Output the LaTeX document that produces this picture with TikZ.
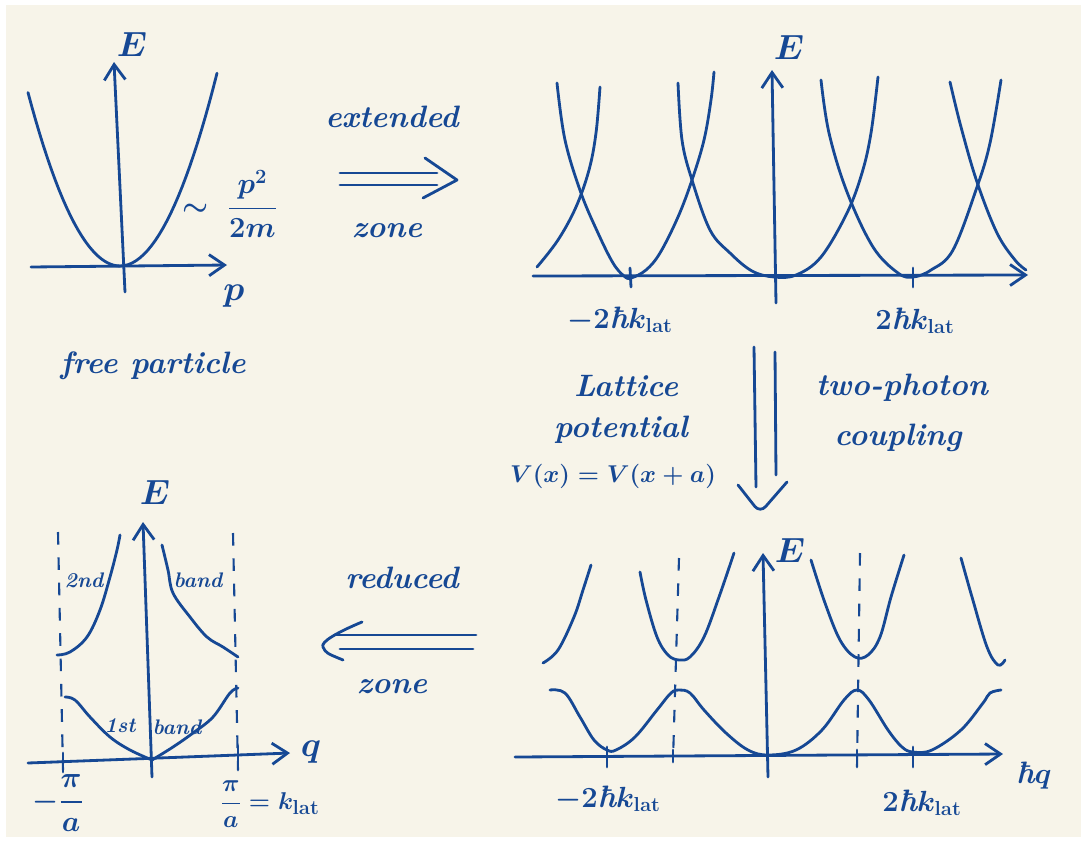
\documentclass[tikz,border=0pt]{standalone}
\usepackage{amsmath}
\usetikzlibrary{arrows.meta,calc}
\definecolor{ink}{RGB}{22,72,148}
\definecolor{paper}{RGB}{247,244,233}
\newcommand{\hbr}{\text{\bfseries\itshape ħ}}

\begin{document}
\begin{tikzpicture}[x=0.025cm, y=-0.025cm,
    pen/.style={draw=ink, line width=2pt, line cap=round, line join=round},
    axis/.style={pen, -{Straight Barb[length=11pt,width=15pt]}},
    guide/.style={pen, line width=1.5pt, line cap=butt, dash pattern=on 9pt off 9pt},
    lbl/.style={text=ink, font=\fontsize{22}{26}\selectfont\boldmath},
    slbl/.style={text=ink, font=\fontsize{19}{23}\selectfont\boldmath},
    big/.style={text=ink, font=\fontsize{28}{32}\selectfont\boldmath},
    word/.style={text=ink, font=\fontsize{22}{26}\selectfont\bfseries\itshape},
    tag/.style={text=ink, font=\fontsize{15}{18}\selectfont\bfseries\itshape}
  ]
    % Paper
    \fill[white] (0,0) rectangle (1085,842);
    \fill[paper] (6,5) rectangle (1081,837);
    \useasboundingbox (0,0) rectangle (1085,842);

    % Free particle
    \coordinate (fpL) at (31,267);
    \coordinate (fpR) at (227,265);
    \coordinate (fpB) at (125,292);
    \coordinate (fpT) at (114,62);
    \draw[axis] (fpL) -- (fpR);
    \draw[axis] (fpB) -- (fpT);
    \draw[pen] plot[domain=-92:97, samples=50] (\x+120, {266-0.0205*\x*\x});
    \node[big] (fpE) at (132,44) {$E$};
    \node[big] (fpP) at (234,296) {$p$};
    \node[lbl] (fpDisp) at (230,204) {$\sim\ \dfrac{p^2}{2m}$};
    \node[word] (fpName) at (153,366) {free particle};

    % Extended zone arrow
    \node[word] (extTop) at (392,117) {extended};
    \node[word] (extBot) at (387,231) {zone};
    \coordinate (ext0) at (340,179);
    \coordinate (ext1) at (457,180);
    \draw[pen] ($(ext0)+(0,-6)$) -- ($(ext1)+(-20,-7)$);
    \draw[pen] ($(ext0)+(0,6)$) -- ($(ext1)+(-20,5)$);
    \draw[pen] ($(ext1)+(-32,-22)$) -- (ext1) -- ($(ext1)+(-34,18)$);

    % Extended zone scheme
    \coordinate (exL) at (533,276);
    \coordinate (exR) at (1028,275);
    \coordinate (exB) at (776,303);
    \coordinate (exT) at (772,70);
    \draw[axis] (exL) -- (exR);
    \draw[axis] (exB) -- (exT);
    \draw[pen] (630,268) -- (631,287);
    \draw[pen] (913,268) -- (913,287);
    \draw[pen] plot[smooth, tension=0.6] coordinates {(537,267) (558,240) (576,207) (589,170) (596,133) (600,87)};
    \draw[pen] plot[smooth, tension=0.6] coordinates {(557,83) (565,140) (581,193) (598,233) (613,263) (624,276) (631,278) (646,270) (660,253) (678,217) (692,180) (704,140) (711,100) (714,72)};
    \draw[pen] plot[smooth, tension=0.6] coordinates {(678,83) (682,140) (692,180) (710,230) (730,253) (752,271) (774,277) (796,275) (821,257) (847,213) (862,173) (871,133) (878,77)};
    \draw[pen] plot[smooth, tension=0.6] coordinates {(821,80) (829,133) (847,192) (873,247) (898,273) (913,277) (931,270) (953,250) (977,187) (990,143) (1001,80)};
    \draw[pen] plot[smooth, tension=0.6] coordinates {(950,82) (961,127) (977,182) (997,233) (1015,260) (1026,270)};
    \node[big] (exE) at (789,47) {$E$};
    \node[lbl] (exKm) at (620,320) {$-2\hbr k_{\mathrm{lat}}$};
    \node[lbl] (exKp) at (915,321) {$2\hbr k_{\mathrm{lat}}$};

    % Downward arrow
    \node[word] (latA) at (626,386) {Lattice};
    \node[word] (latB) at (621,430) {potential};
    \node[slbl] (latC) at (613,476) {$V(x)=V(x+a)$};
    \node[word] (tpA) at (902,388) {two-photon};
    \node[word] (tpB) at (898,438) {coupling};
    \coordinate (dn0) at (765,350);
    \coordinate (dn1) at (760,513);
    \draw[pen] ($(dn0)+(-11,-3)$) -- ($(dn1)+(-4,-26)$);
    \draw[pen] ($(dn0)+(10,2)$) -- ($(dn1)+(16,-38)$);
    \draw[pen, rounded corners=6pt] ($(dn1)+(-22,-28)$) -- (dn1) -- ($(dn1)+(27,-31)$);

    % Reduced zone scheme
    \coordinate (rzL) at (28,763);
    \coordinate (rzR) at (290,753);
    \coordinate (rzB) at (152,777);
    \coordinate (rzT) at (143,522);
    \draw[guide] (58,532) -- (63,770);
    \draw[guide] (233,533) -- (238,770);
    \draw[axis] (rzL) -- (rzR);
    \draw[axis] (rzB) -- (rzT);
    \draw[pen] (63,753) -- (63,772);
    \draw[pen] (238,746) -- (238,770);
    \draw[pen] plot[smooth, tension=0.6] coordinates {(57,655) (70,652) (87,637) (100,610) (110,577) (117,550) (120,535)};
    \draw[pen] plot[smooth, tension=0.6] coordinates {(162,545) (168,570) (173,593) (190,617) (207,637) (223,647) (238,657)};
    \draw[pen] plot[smooth, tension=0.6] coordinates {(65,697) (75,700) (90,717) (110,737) (130,750) (152,760)};
    \draw[pen] plot[smooth, tension=0.6] coordinates {(152,760) (173,747) (193,733) (213,717) (230,693) (238,688)};
    \node[big] (rzE) at (155,492) {$E$};
    \node[big] (rzQ) at (311,752) {$q$};
    \node[tag] (rzSec) at (84,580) {2nd};
    \node[tag] (rzSecB) at (198,580) {band};
    \node[tag] (rzFir) at (120,726) {1st};
    \node[tag] (rzFirB) at (177,727) {band};
    \node[lbl] (rzKm) at (58,803) {$-\dfrac{\pi}{a}$};
    \node[slbl] (rzKp) at (270,804) {$\dfrac{\pi}{a}=k_{\mathrm{lat}}$};

    % Reduced zone arrow
    \node[word] (redTop) at (402,578) {reduced};
    \node[word] (redBot) at (392,687) {zone};
    \coordinate (rd0) at (476,642);
    \coordinate (rd1) at (323,647);
    \draw[pen] ($(rd1)+(12,-12)$) -- ($(rd0)+(0,-7)$);
    \draw[pen] ($(rd1)+(17,2)$) -- ($(rd0)+(-3,7)$);
    \draw[pen] ($(rd1)+(39,-25)$) .. controls ($(rd1)+(15,-15)$) and ($(rd1)+(-3,-5)$) .. (rd1) .. controls ($(rd1)+(3,6)$) .. ($(rd1)+(20,13)$);

    % Band scheme with lattice
    \coordinate (bsL) at (515,757);
    \coordinate (bsR) at (1003,754);
    \coordinate (bsB) at (768,777);
    \coordinate (bsT) at (763,553);
    \draw[guide] (679,558) -- (673,760);
    \draw[guide] (860,553) -- (857,767);
    \draw[axis] (bsL) -- (bsR);
    \draw[axis] (bsB) -- (bsT);
    \draw[pen] (607,747) -- (607,767);
    \draw[pen] (673,750) -- (673,762);
    \draw[pen] (857,750) -- (857,767);
    \draw[pen] (913,747) -- (913,767);
    \draw[pen] plot[smooth, tension=0.6] coordinates {(550,690) (565,693) (580,717) (594,740) (607,750) (616,750) (635,737) (657,710) (671,693) (679,690) (690,693) (704,710) (726,733) (748,750) (768,755) (796,750) (822,730) (844,700) (857,690) (869,700) (888,730) (902,747) (913,752) (932,750) (961,730) (983,703) (990,693) (1001,690)};
    \draw[pen] plot[smooth, tension=0.6] coordinates {(543,663) (558,650) (574,617) (583,590) (591,565)};
    \draw[pen] plot[smooth, tension=0.6] coordinates {(640,572) (646,600) (657,637) (668,655) (679,660) (690,657) (704,637) (719,597) (734,553)};
    \draw[pen] plot[smooth, tension=0.6] coordinates {(811,560) (825,603) (840,640) (855,657) (868,655) (880,637) (891,597) (904,555)};
    \draw[pen] plot[smooth, tension=0.6] coordinates {(961,558) (972,597) (987,647) (998,665) (1005,660)};
    \node[big] (bsE) at (790,550) {$E$};
    \node[lbl] (bsQ) at (1034,776) {$\hbr q$};
    \node[lbl] (bsKm) at (608,799) {$-2\hbr k_{\mathrm{lat}}$};
    \node[lbl] (bsKp) at (922,803) {$2\hbr k_{\mathrm{lat}}$};
  \end{tikzpicture}
\end{document}
